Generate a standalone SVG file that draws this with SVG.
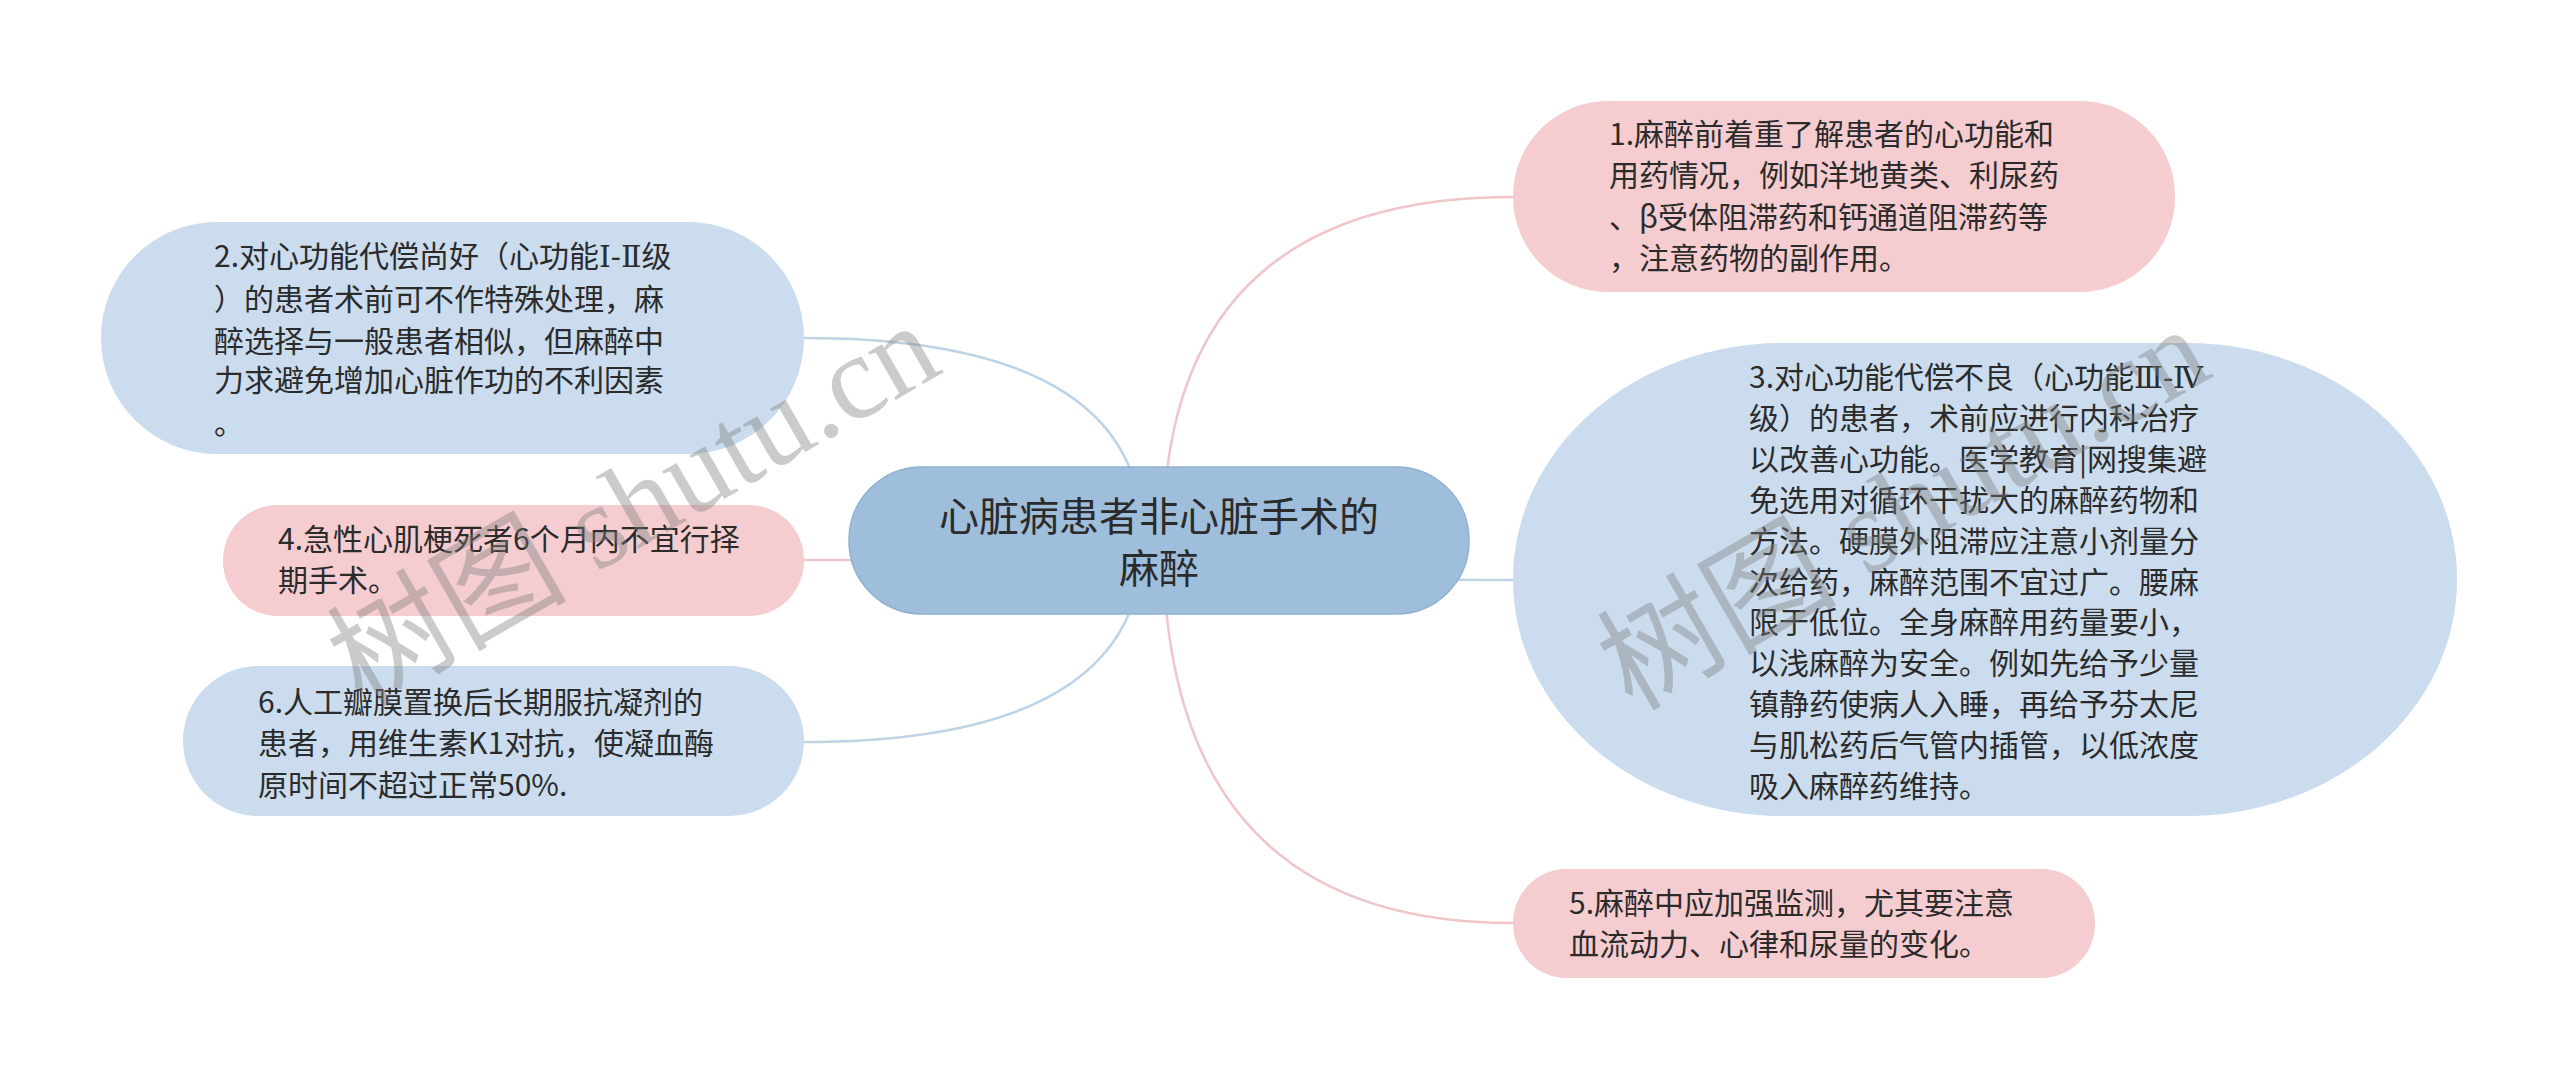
<svg xmlns="http://www.w3.org/2000/svg" width="2560" height="1081" viewBox="0 0 2560 1081">
<style>
.bg{fill:#ffffff}
.pink{fill:#f5cdd0}
.blue{fill:#cadced}
.root{fill:#9fbedb;stroke:#8eb1d3;stroke-width:1.5}
.cp{fill:none;stroke:#f1c6c9;stroke-width:2.5}
.cb{fill:none;stroke:#bfd3e6;stroke-width:2.5}
.t{font-family:"Noto Sans CJK SC","Noto Sans",sans-serif;font-size:30px;fill:#2b2b2b}
.tr{font-family:"Noto Sans CJK SC","Noto Sans",sans-serif;font-size:40px;fill:#2b2b2b;text-anchor:middle}
.rn{font-family:"DejaVu Serif","Liberation Serif",serif}
.wm{font-family:"Liberation Serif","Noto Sans CJK SC",serif;font-size:120px;fill:#7f7f7f;opacity:0.4}
</style>
<rect class="bg" x="0" y="0" width="2560" height="1081"/>
<g id="connectors">
<path class="cp" d="M1163 540 Q1163 197 1513 197"/>
<path class="cb" d="M1163 540 Q1163 580 1513 580"/>
<path class="cp" d="M1163 540 Q1163 923 1513 923"/>
<path class="cb" d="M1143 540 Q1143 338 804 338"/>
<path class="cp" d="M1143 540 Q1143 560 804 560"/>
<path class="cb" d="M1143 540 Q1143 742 804 742"/>
</g>
<g id="root">
<rect class="root" x="849" y="467" width="620" height="147" rx="73" ry="73"/>
<text class="tr" x="1159" y="531">心脏病患者非心脏手术的</text>
<text class="tr" x="1159" y="583">麻醉</text>
</g>
<g id="node1">
<rect class="pink" x="1513" y="101" width="662" height="191" rx="95" ry="95"/>
<text class="t" x="1609" y="145">1.麻醉前着重了解患者的心功能和</text>
<text class="t" x="1609" y="186">用药情况，例如洋地黄类、利尿药</text>
<text class="t" x="1609" y="228">、β受体阻滞药和钙通道阻滞药等</text>
<text class="t" x="1609" y="269">，注意药物的副作用。</text>
</g>
<g id="node3">
<rect class="blue" x="1513" y="343" width="944" height="473" rx="270" ry="236"/>
<text class="t" x="1749" y="388">3.对心功能代偿不良（心功能<tspan class="rn">Ⅲ-Ⅳ</tspan></text>
<text class="t" x="1749" y="429">级）的患者，术前应进行内科治疗</text>
<text class="t" x="1749" y="470">以改善心功能。医学教育|网搜集避</text>
<text class="t" x="1749" y="511">免选用对循环干扰大的麻醉药物和</text>
<text class="t" x="1749" y="552">方法。硬膜外阻滞应注意小剂量分</text>
<text class="t" x="1749" y="593">次给药，麻醉范围不宜过广。腰麻</text>
<text class="t" x="1749" y="633">限于低位。全身麻醉用药量要小，</text>
<text class="t" x="1749" y="674">以浅麻醉为安全。例如先给予少量</text>
<text class="t" x="1749" y="715">镇静药使病人入睡，再给予芬太尼</text>
<text class="t" x="1749" y="756">与肌松药后气管内插管，以低浓度</text>
<text class="t" x="1749" y="797">吸入麻醉药维持。</text>
</g>
<g id="node5">
<rect class="pink" x="1513" y="869" width="582" height="109" rx="54" ry="54"/>
<text class="t" x="1569" y="914">5.麻醉中应加强监测，尤其要注意</text>
<text class="t" x="1569" y="955">血流动力、心律和尿量的变化。</text>
</g>
<g id="node2">
<rect class="blue" x="101" y="222" width="703" height="232" rx="116" ry="116"/>
<text class="t" x="214" y="267">2.对心功能代偿尚好（心功能<tspan class="rn">Ⅰ-Ⅱ</tspan>级</text>
<text class="t" x="214" y="310">）的患者术前可不作特殊处理，麻</text>
<text class="t" x="214" y="352">醉选择与一般患者相似，但麻醉中</text>
<text class="t" x="214" y="391">力求避免增加心脏作功的不利因素</text>
<text class="t" x="214" y="434">。</text>
</g>
<g id="node4">
<rect class="pink" x="223" y="505" width="581" height="111" rx="55" ry="55"/>
<text class="t" x="278" y="550">4.急性心肌梗死者6个月内不宜行择</text>
<text class="t" x="278" y="591">期手术。</text>
</g>
<g id="node6">
<rect class="blue" x="183" y="666" width="621" height="150" rx="75" ry="75"/>
<text class="t" x="258" y="713">6.人工瓣膜置换后长期服抗凝剂的</text>
<text class="t" x="258" y="754">患者，用维生素K1对抗，使凝血酶</text>
<text class="t" x="258" y="796">原时间不超过正常50%.</text>
</g>
<g id="watermark">
<text class="wm" transform="translate(362,708) rotate(-30)">树图 shutu.cn</text>
<text class="wm" transform="translate(1632,712) rotate(-30)">树图 shutu.cn</text>
</g>
</svg>
